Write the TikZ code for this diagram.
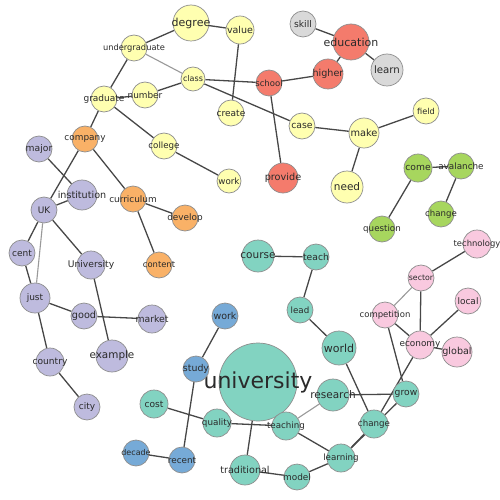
\documentclass[tikz,border=0pt]{standalone}
\usepackage{fontspec}
\setmainfont{DejaVu Sans}
\usepackage{tikz}
\usetikzlibrary{backgrounds}
\definecolor{cyel}{HTML}{FFFFB0}
\definecolor{cred}{HTML}{F47B6C}
\definecolor{cgry}{HTML}{D9D9D9}
\definecolor{cgrn}{HTML}{A7D65E}
\definecolor{cpnk}{HTML}{F9C9DF}
\definecolor{cteal}{HTML}{82D3C1}
\definecolor{cblu}{HTML}{76AAD7}
\definecolor{cpur}{HTML}{BEBBDE}
\definecolor{cora}{HTML}{F9B167}
\definecolor{rim}{HTML}{8E8E8E}
\definecolor{txt}{HTML}{2A2A2A}
\tikzstyle{wd}=[circle, draw=rim, line width=0.7pt, inner sep=0pt, text=txt]
\tikzstyle{link}=[draw=black!72, line width=1.3pt]
\tikzstyle{faint}=[draw=black!40, line width=1.1pt]
\newcommand{\fs}[1]{\fontsize{#1}{#1}\selectfont}

\begin{document}
\begin{tikzpicture}[x=1pt,y=-1pt]
\useasboundingbox (0,0) rectangle (500,500);
% yellow words
\node[wd, fill=cyel, minimum size=36, font=\fs{11}] (degree) at (191,23) {\makebox[0pt]{degree}};
\node[wd, fill=cyel, minimum size=28, font=\fs{9.5}] (value) at (240,30) {\makebox[0pt]{value}};
\node[wd, fill=cyel, minimum size=26, font=\fs{8.3}] (undergraduate) at (134,48) {\makebox[0pt]{undergraduate}};
\node[wd, fill=cyel, minimum size=24, font=\fs{8}] (class) at (193,79) {\makebox[0pt]{class}};
\node[wd, fill=cyel, minimum size=26, font=\fs{8.9}] (number) at (145,95) {\makebox[0pt]{number}};
\node[wd, fill=cyel, minimum size=26, font=\fs{9}] (graduate) at (104,99) {\makebox[0pt]{graduate}};
\node[wd, fill=cyel, minimum size=26, font=\fs{9}] (create) at (231,113) {\makebox[0pt]{create}};
\node[wd, fill=cyel, minimum size=26, font=\fs{8.7}] (college) at (164,146) {\makebox[0pt]{college}};
\node[wd, fill=cyel, minimum size=24, font=\fs{8.7}] (worky) at (229,181) {\makebox[0pt]{work}};
\node[wd, fill=cyel, minimum size=26, font=\fs{9.3}] (case) at (302,126) {\makebox[0pt]{case}};
\node[wd, fill=cyel, minimum size=30, font=\fs{9.8}] (make) at (364,133) {\makebox[0pt]{make}};
\node[wd, fill=cyel, minimum size=26, font=\fs{8.2}] (field) at (426,111) {\makebox[0pt]{field}};
\node[wd, fill=cyel, minimum size=32, font=\fs{10.5}] (need) at (347,187) {\makebox[0pt]{need}};
% red and gray words
\node[wd, fill=cred, minimum size=36, font=\fs{11}] (education) at (351,42) {\makebox[0pt]{education}};
\node[wd, fill=cred, minimum size=30, font=\fs{9.6}] (higher) at (328,74) {\makebox[0pt]{higher}};
\node[wd, fill=cred, minimum size=26, font=\fs{8.5}] (school) at (269,83) {\makebox[0pt]{school}};
\node[wd, fill=cred, minimum size=30, font=\fs{9.7}] (provide) at (283,178) {\makebox[0pt]{provide}};
\node[wd, fill=cgry, minimum size=26, font=\fs{9.2}] (skill) at (303,24) {\makebox[0pt]{skill}};
\node[wd, fill=cgry, minimum size=32, font=\fs{10.2}] (learn) at (387,70) {\makebox[0pt]{learn}};
% green words
\node[wd, fill=cgrn, minimum size=28, font=\fs{9.2}] (come) at (418,168) {\makebox[0pt]{come}};
\node[wd, fill=cgrn, minimum size=26, font=\fs{8.8}] (avalanche) at (461,166) {\makebox[0pt]{avalanche}};
\node[wd, fill=cgrn, minimum size=26, font=\fs{8.6}] (changeg) at (441,214) {\makebox[0pt]{change}};
\node[wd, fill=cgrn, minimum size=26, font=\fs{8.7}] (question) at (382,229) {\makebox[0pt]{question}};
% pink words
\node[wd, fill=cpnk, minimum size=28, font=\fs{8.4}] (technology) at (477,244) {\makebox[0pt]{technology}};
\node[wd, fill=cpnk, minimum size=26, font=\fs{7.8}] (sector) at (421,278) {\makebox[0pt]{sector}};
\node[wd, fill=cpnk, minimum size=26, font=\fs{9}] (local) at (468,301) {\makebox[0pt]{local}};
\node[wd, fill=cpnk, minimum size=26, font=\fs{8.5}] (competition) at (385,315) {\makebox[0pt]{competition}};
\node[wd, fill=cpnk, minimum size=28, font=\fs{8.9}] (economy) at (420,345) {\makebox[0pt]{economy}};
\node[wd, fill=cpnk, minimum size=30, font=\fs{9.6}] (global) at (457,352) {\makebox[0pt]{global}};
% teal words
\node[wd, fill=cteal, minimum size=32, font=\fs{10.5}] (course) at (258,256) {\makebox[0pt]{course}};
\node[wd, fill=cteal, minimum size=26, font=\fs{9.2}] (teach) at (316,257) {\makebox[0pt]{teach}};
\node[wd, fill=cteal, minimum size=26, font=\fs{8.7}] (lead) at (300,310) {\makebox[0pt]{lead}};
\node[wd, fill=cteal, minimum size=34, font=\fs{11}] (world) at (339,348) {\makebox[0pt]{world}};
\node[wd, fill=cteal, minimum size=78, font=\fs{22}] (university) at (258,382) {\makebox[0pt]{university}};
\node[wd, fill=cteal, minimum size=32, font=\fs{10.5}] (research) at (333,395) {\makebox[0pt]{research}};
\node[wd, fill=cteal, minimum size=26, font=\fs{9.2}] (grow) at (406,394) {\makebox[0pt]{grow}};
\node[wd, fill=cteal, minimum size=28, font=\fs{8.7}] (teaching) at (286,426) {\makebox[0pt]{teaching}};
\node[wd, fill=cteal, minimum size=28, font=\fs{8.7}] (changet) at (374,424) {\makebox[0pt]{change}};
\node[wd, fill=cteal, minimum size=28, font=\fs{8.7}] (learning) at (341,458) {\makebox[0pt]{learning}};
\node[wd, fill=cteal, minimum size=26, font=\fs{8.9}] (model) at (297,477) {\makebox[0pt]{model}};
\node[wd, fill=cteal, minimum size=30, font=\fs{9.6}] (traditional) at (245,470) {\makebox[0pt]{traditional}};
\node[wd, fill=cteal, minimum size=28, font=\fs{8.8}] (quality) at (217,423) {\makebox[0pt]{quality}};
\node[wd, fill=cteal, minimum size=28, font=\fs{9.1}] (cost) at (154,404) {\makebox[0pt]{cost}};
% blue words
\node[wd, fill=cblu, minimum size=26, font=\fs{9.5}] (workb) at (225,316) {\makebox[0pt]{work}};
\node[wd, fill=cblu, minimum size=26, font=\fs{9.4}] (study) at (196,369) {\makebox[0pt]{study}};
\node[wd, fill=cblu, minimum size=26, font=\fs{8.8}] (recent) at (182,460) {\makebox[0pt]{recent}};
\node[wd, fill=cblu, minimum size=26, font=\fs{8}] (decade) at (136,453) {\makebox[0pt]{decade}};
% purple words
\node[wd, fill=cpur, minimum size=26, font=\fs{9.2}] (major) at (39,149) {\makebox[0pt]{major}};
\node[wd, fill=cpur, minimum size=30, font=\fs{9.6}] (institution) at (82,195) {\makebox[0pt]{institution}};
\node[wd, fill=cpur, minimum size=26, font=\fs{9}] (UK) at (44,210) {\makebox[0pt]{UK}};
\node[wd, fill=cpur, minimum size=26, font=\fs{9}] (cent) at (22,253) {\makebox[0pt]{cent}};
\node[wd, fill=cpur, minimum size=28, font=\fs{9.2}] (University) at (91,265) {\makebox[0pt]{University}};
\node[wd, fill=cpur, minimum size=30, font=\fs{9}] (just) at (35,298) {\makebox[0pt]{just}};
\node[wd, fill=cpur, minimum size=26, font=\fs{9.7}] (good) at (84,316) {\makebox[0pt]{good}};
\node[wd, fill=cpur, minimum size=28, font=\fs{9.3}] (market) at (152,319) {\makebox[0pt]{market}};
\node[wd, fill=cpur, minimum size=32, font=\fs{10.4}] (example) at (112,356) {\makebox[0pt]{example}};
\node[wd, fill=cpur, minimum size=28, font=\fs{9.1}] (country) at (50,362) {\makebox[0pt]{country}};
\node[wd, fill=cpur, minimum size=26, font=\fs{9}] (city) at (87,407) {\makebox[0pt]{city}};
% orange words
\node[wd, fill=cora, minimum size=26, font=\fs{8.9}] (company) at (85,139) {\makebox[0pt]{company}};
\node[wd, fill=cora, minimum size=26, font=\fs{8.9}] (curriculum) at (133,199) {\makebox[0pt]{curriculum}};
\node[wd, fill=cora, minimum size=26, font=\fs{8.9}] (develop) at (185,218) {\makebox[0pt]{develop}};
\node[wd, fill=cora, minimum size=26, font=\fs{8.4}] (content) at (159,265) {\makebox[0pt]{content}};

% Now draw the links behind the words
\begin{pgfonlayer}{background}
\draw[link] (degree) -- (undergraduate);
\draw[link] (degree) -- (value);
\draw[link] (value) -- (create);
\draw[link] (undergraduate) -- (graduate);
\draw[faint] (undergraduate) -- (class);
\draw[link] (class) -- (number);
\draw[link] (number) -- (graduate);
\draw[link] (graduate) -- (company);
\draw[link] (graduate) -- (college);
\draw[link] (college) -- (worky);
\draw[link] (class) -- (school);
\draw[link] (class) -- (case);
\draw[link] (case) -- (make);
\draw[link] (make) -- (field);
\draw[link] (make) -- (need);
\draw[link] (school) -- (higher);
\draw[link] (school) -- (provide);
\draw[link] (higher) -- (education);
\draw[link] (education) -- (skill);
\draw[link] (education) -- (learn);
\draw[link] (come) -- (avalanche);
\draw[link] (avalanche) -- (changeg);
\draw[link] (come) -- (question);
\draw[link] (technology) -- (sector);
\draw[faint] (sector) -- (competition);
\draw[link] (sector) -- (economy);
\draw[link] (competition) -- (economy);
\draw[link] (local) -- (economy);
\draw[link] (economy) -- (global);
\draw[link] (competition) -- (grow);
\draw[link] (economy) -- (changet);
\draw[link] (course) -- (teach);
\draw[link] (teach) -- (lead);
\draw[link] (lead) -- (world);
\draw[link] (world) -- (changet);
\draw[link] (research) -- (grow);
\draw[faint] (research) -- (teaching);
\draw[link] (teaching) -- (quality);
\draw[link] (teaching) -- (learning);
\draw[link] (learning) -- (changet);
\draw[link] (learning) -- (grow);
\draw[link] (learning) -- (model);
\draw[link] (traditional) -- (model);
\draw[link] (university) -- (traditional);
\draw[link] (quality) -- (cost);
\draw[link] (workb) -- (study);
\draw[link] (study) -- (recent);
\draw[link] (recent) -- (decade);
\draw[link] (company) -- (UK);
\draw[link] (company) -- (curriculum);
\draw[link] (curriculum) -- (develop);
\draw[link] (curriculum) -- (content);
\draw[link] (major) -- (institution);
\draw[link] (institution) -- (UK);
\draw[link] (UK) -- (cent);
\draw[faint] (UK) -- (just);
\draw[link] (UK) -- (University);
\draw[link] (cent) -- (just);
\draw[link] (just) -- (good);
\draw[link] (just) -- (country);
\draw[link] (good) -- (market);
\draw[link] (University) -- (example);
\draw[link] (country) -- (city);
\end{pgfonlayer}
\end{tikzpicture}
\end{document}
